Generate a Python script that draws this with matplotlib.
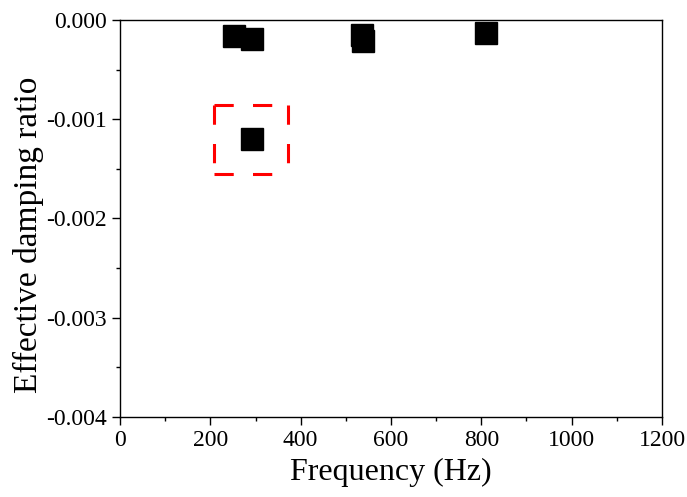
import matplotlib
matplotlib.use("Agg")
import matplotlib.pyplot as plt
from matplotlib.ticker import MultipleLocator, FormatStrFormatter

# values
freq = [253, 292, 536, 538, 810, 292]
damping = [-0.000164, -0.000191, -0.000148, -0.000209, -0.00013, -0.0012]

# highlighted point box (data coords)
box_x = [208, 372]
box_y = [-0.00155, -0.000856]

plt.rcParams["font.family"] = ["Liberation Serif", "DejaVu Serif"]
plt.rcParams["axes.unicode_minus"] = False

fig = plt.figure(figsize=(6.87, 4.97), dpi=100)
ax = fig.add_axes([0.1747, 0.161, 0.7889, 0.7988])

ax.plot(freq, damping, linestyle="none", marker="s", markersize=16,
        markerfacecolor="black", markeredgecolor="black", markeredgewidth=1)

# dashed box, each side drawn on its own so every edge starts with a dash
x0, x1 = box_x
y0, y1 = box_y
dash = dict(color="#ff0000", linewidth=2.2, linestyle=(0, (6.3, 6.3)),
            solid_capstyle="butt", dash_capstyle="butt")
ax.plot([x0, x1], [y1, y1], **dash)   # top
ax.plot([x0, x1], [y0, y0], **dash)   # bottom
ax.plot([x0, x0], [y1, y0], **dash)   # left
ax.plot([x1, x1], [y1, y0], **dash)   # right

ax.set_xlim(0, 1200)
ax.set_ylim(-0.004, 0.0)
ax.xaxis.set_major_locator(MultipleLocator(200))
ax.xaxis.set_minor_locator(MultipleLocator(100))
ax.yaxis.set_major_locator(MultipleLocator(0.001))
ax.yaxis.set_minor_locator(MultipleLocator(0.0005))
ax.yaxis.set_major_formatter(FormatStrFormatter("%.3f"))

ax.tick_params(which="major", direction="out", length=6, width=1, labelsize=17,
               top=False, right=False)
ax.tick_params(which="minor", direction="out", length=3, width=1,
               top=False, right=False)
for s in ax.spines.values():
    s.set_linewidth(1.0)

ax.set_xlabel("Frequency (Hz)", fontsize=23, labelpad=5)
ax.set_ylabel("Effective damping ratio", fontsize=24)
ax.yaxis.set_label_coords(-0.14, 0.46)

fig.savefig("out.png", dpi=100)
plt.close(fig)
